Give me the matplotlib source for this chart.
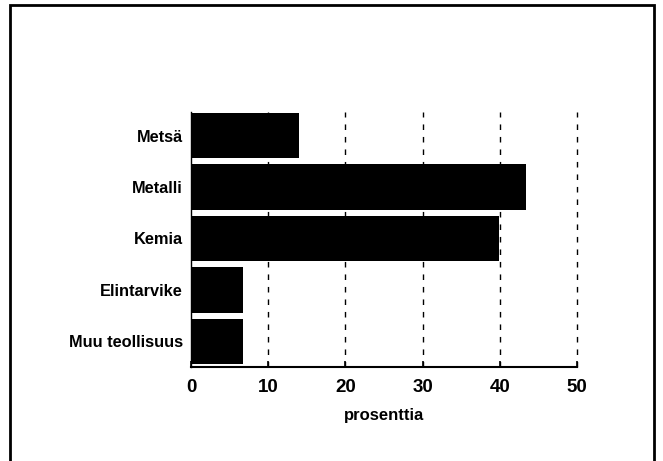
import matplotlib.pyplot as plt
from matplotlib.patches import Rectangle

# data (percent)
categories = ["Metsä", "Metalli", "Kemia", "Elintarvike", "Muu teollisuus"]
values = [14.0, 43.4, 39.9, 6.7, 6.7]
xticks = [0, 10, 20, 30, 40, 50]

plt.rcParams['font.family'] = ['Liberation Sans', 'DejaVu Sans']

fig = plt.figure(figsize=(6.63, 4.61), dpi=100)
W, H = 663, 461
ax = fig.add_axes([191 / W, 1 - 367 / H, (577 - 191) / W, (367 - 112) / H])

# bottom category drawn at y=0
ypos = list(range(len(categories)))[::-1]
ax.barh(ypos, values, height=0.88, color="black", zorder=3)

for x in xticks[1:]:
    ax.axvline(x, color="black", lw=1.0, ls=(0, (4, 5)), zorder=1, clip_on=False)

ax.set_xlim(0, 50)
ax.set_ylim(-0.5, 4.46)
ax.set_xticks(xticks)
ax.set_yticks(ypos)
ax.set_yticklabels(categories)
ax.tick_params(axis="y", length=0, pad=6, labelsize=11.8)
ax.tick_params(axis="x", direction="in", length=4, width=1.2, pad=9, labelsize=13.5)
for lab in ax.get_xticklabels() + ax.get_yticklabels():
    lab.set_fontweight("bold")
ax.set_xlabel("prosenttia", fontsize=12, fontweight="bold", labelpad=8)

ax.spines["top"].set_visible(False)
ax.spines["right"].set_visible(False)
ax.spines["bottom"].set_linewidth(1.5)
ax.spines["left"].set_linewidth(1.0)

# frame round the picture, its bottom edge lies off the page
fig.patches.append(Rectangle((10 / W, -0.05), (654 - 10) / W, 1.05 - 5 / H,
                             transform=fig.transFigure, fill=False,
                             edgecolor="black", lw=2.0))

fig.savefig("out.png", dpi=100)
